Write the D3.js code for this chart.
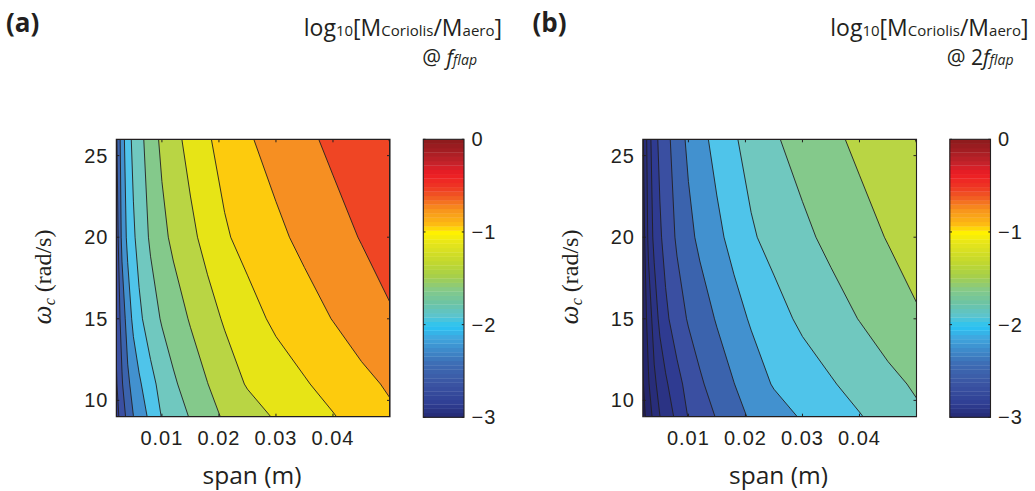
<!DOCTYPE html>
<html>
<head>
<meta charset="utf-8">
<script src="https://cdn.jsdelivr.net/npm/d3@7"></script>
<style>
  body { margin: 0; background: #fff; }
  svg { display: block; }
  .tick { font-family: "Liberation Sans", Arial, sans-serif; font-size: 20px; fill: #231f20; letter-spacing: 1px; }
  .lbl { font-family: "Open Sans", sans-serif; fill: #231f20; }
  .serif { font-family: "Liberation Serif", serif; fill: #231f20; }
</style>
</head>
<body>
<svg id="chart" width="1035" height="491"></svg>
<script>
// grid: span columns (m), omega rows (rad/s, bottom to top)
const spans = [0.002, 0.003, 0.004, 0.005, 0.006, 0.008, 0.010, 0.012, 0.015, 0.018, 0.021, 0.025, 0.030, 0.035, 0.040, 0.045, 0.050]
const omegas = [9, 11, 15, 20, 26]

// log10[M_Coriolis / M_aero] @ f_flap
const ratioA = [
  [-3.10, -2.875, -2.675, -2.503, -2.398, -2.188, -1.987, -1.885, -1.733, -1.590, -1.469, -1.358, -1.226, -1.120, -1.014, -0.902, -0.790],
  [-3.03, -2.773, -2.550, -2.409, -2.291, -2.078, -1.918, -1.787, -1.640, -1.504, -1.378, -1.230, -1.126, -1.021, -0.916, -0.810, -0.720],
  [-2.94, -2.650, -2.386, -2.190, -2.053, -1.872, -1.726, -1.626, -1.479, -1.346, -1.223, -1.092, -0.953, -0.848, -0.743, -0.636, -0.530],
  [-2.90, -2.435, -2.188, -2.035, -1.915, -1.713, -1.566, -1.448, -1.308, -1.168, -1.029, -0.920, -0.802, -0.692, -0.590, -0.487, -0.380],
  [-2.80, -2.360, -2.100, -1.940, -1.840, -1.620, -1.450, -1.330, -1.170, -1.025, -0.914, -0.776, -0.659, -0.552, -0.448, -0.346, -0.245]
]

// log10[M_Coriolis / M_aero] @ 2 f_flap
const ratioB = [
  [-4.10, -3.875, -3.675, -3.503, -3.398, -3.188, -2.987, -2.885, -2.733, -2.590, -2.469, -2.358, -2.226, -2.120, -2.014, -1.902, -1.790],
  [-4.03, -3.773, -3.550, -3.409, -3.291, -3.078, -2.918, -2.787, -2.640, -2.504, -2.378, -2.230, -2.126, -2.021, -1.916, -1.810, -1.720],
  [-3.94, -3.650, -3.386, -3.190, -3.053, -2.872, -2.726, -2.626, -2.479, -2.346, -2.223, -2.092, -1.953, -1.848, -1.743, -1.636, -1.530],
  [-3.90, -3.435, -3.188, -3.035, -2.915, -2.713, -2.566, -2.448, -2.308, -2.168, -2.029, -1.920, -1.802, -1.692, -1.590, -1.487, -1.380],
  [-3.80, -3.360, -3.100, -2.940, -2.840, -2.620, -2.450, -2.330, -2.170, -2.025, -1.914, -1.776, -1.659, -1.552, -1.448, -1.346, -1.245]
]

const levels = [-4, -3.75, -3.5, -3.25, -3, -2.75, -2.5, -2.25, -2, -1.75, -1.5, -1.25, -1, -0.75, -0.5, -0.25]
// fill for below the first level, then one per level
const bandColors = ['#1e1d5a', '#24266c', '#282d7a', '#2b3384', '#2f3b91', '#3a4fa1', '#3b63ad', '#4291cf',
  '#4fc4ea', '#70c8bf', '#84c98b', '#b9d544', '#e7e416', '#fdcb0d', '#f68f22', '#ef4524', '#cf2229']

const xTicks = [0.01, 0.02, 0.03, 0.04]
const yTicks = [10, 15, 20, 25]
const cbarTicks = [0, -1, -2, -3]

// colorbar map sampled off the bar
const cbarStops = [-3, -2.85, -2.63, -2.42, -2.27, -2.13, -2.02, -1.91, -1.77, -1.63, -1.48, -1.34, -1.12, -1.01, -0.91, -0.76, -0.62, -0.51, -0.37, -0.26, -0.115, 0]
const cbarColors = ['#262a74', '#2f3f94', '#3b55a3', '#3d6db5', '#3e8ccc', '#3fa9e0', '#27c4f4', '#5bc4d0', '#6cc4a4', '#84c98a', '#a5cf4c',
  '#bfd730', '#e6e51a', '#fff200', '#fdb913', '#f7941d', '#f15a22', '#ee3524', '#ed1c24', '#c6222a', '#a11d22', '#8c1a1c']

const svg = d3.select('#chart')
const ink = '#231f20'

const drawPanel = (ratio, dx, tag, id, freq) => {

  const g = svg.append('g').attr('transform', `translate(${dx},0)`)

  const x = d3.scaleLinear().domain([spans[0], spans[spans.length - 1]]).range([116.3, 390])
  const y = d3.scaleLinear().domain([omegas[0], omegas[omegas.length - 1]]).range([416.7, 139.3])

  const n = spans.length, m = omegas.length
  const colSpan = d3.scaleLinear().domain(d3.range(n)).range(spans).clamp(true)
  const rowOmega = d3.scaleLinear().domain(d3.range(m)).range(omegas).clamp(true)

  const toPlot = d3.geoTransform({
    point(u, v) { this.stream.point(x(colSpan(u - 0.5)), y(rowOmega(v - 0.5))) }
  })
  const path = d3.geoPath(toPlot)

  const bands = d3.contours().size([n, m]).thresholds(levels)(ratio.flat())

  g.append('clipPath').attr('id', id)
    .append('rect')
    .attr('x', x.range()[0]).attr('y', y.range()[1])
    .attr('width', x.range()[1] - x.range()[0]).attr('height', y.range()[0] - y.range()[1])

  const plot = g.append('g').attr('clip-path', `url(#${id})`)

  plot.append('rect')
    .attr('x', x.range()[0]).attr('y', y.range()[1])
    .attr('width', x.range()[1] - x.range()[0]).attr('height', y.range()[0] - y.range()[1])
    .attr('fill', bandColors[0])

  plot.selectAll('path.band')
    .data(bands)
    .enter()
    .append('path')
    .attr('class', 'band')
    .attr('d', path)
    .attr('fill', (d, i) => bandColors[i + 1])

  plot.selectAll('path.line')
    .data(bands)
    .enter()
    .append('path')
    .attr('class', 'line')
    .attr('d', path)
    .attr('fill', 'none')
    .attr('stroke', ink)
    .attr('stroke-width', 0.9)

  // box and inward ticks
  g.append('rect')
    .attr('x', x.range()[0]).attr('y', y.range()[1])
    .attr('width', x.range()[1] - x.range()[0]).attr('height', y.range()[0] - y.range()[1])
    .attr('fill', 'none').attr('stroke', ink).attr('stroke-width', 1.1)

  const tl = 3
  xTicks.forEach(t => {
    g.append('line').attr('x1', x(t)).attr('x2', x(t)).attr('y1', y.range()[0]).attr('y2', y.range()[0] - tl).attr('stroke', ink)
    g.append('line').attr('x1', x(t)).attr('x2', x(t)).attr('y1', y.range()[1]).attr('y2', y.range()[1] + tl).attr('stroke', ink)
    g.append('text').attr('class', 'tick')
      .attr('x', x(t)).attr('y', 445).attr('text-anchor', 'middle')
      .text(t.toFixed(2))
  })
  yTicks.forEach(t => {
    g.append('line').attr('x1', x.range()[0]).attr('x2', x.range()[0] + tl).attr('y1', y(t)).attr('y2', y(t)).attr('stroke', ink)
    g.append('line').attr('x1', x.range()[1]).attr('x2', x.range()[1] - tl).attr('y1', y(t)).attr('y2', y(t)).attr('stroke', ink)
    g.append('text').attr('class', 'tick')
      .attr('x', 108.5).attr('y', y(t) + 7).attr('text-anchor', 'end')
      .text(t)
  })

  g.append('text').attr('class', 'lbl')
    .attr('x', 252).attr('y', 484).attr('text-anchor', 'middle')
    .attr('font-size', 24.5)
    .text('span (m)')

  const yl = g.append('text').attr('class', 'serif')
    .attr('transform', 'translate(51,277) rotate(-90)')
    .attr('text-anchor', 'middle')
    .attr('font-size', 24)
  yl.append('tspan').attr('font-style', 'italic').attr('font-size', 27).text('ω')
  yl.append('tspan').attr('font-style', 'italic').attr('font-size', 16).attr('dy', 4).text('c')
  yl.append('tspan').attr('dy', -4).text(' (rad/s)')

  // colorbar
  const c = d3.scaleLinear().domain([-3, 0]).range([417.3, 139.3])
  const cmap = d3.scaleLinear().domain(cbarStops).range(cbarColors)
  const steps = d3.range(64)
  g.selectAll('rect.cb')
    .data(steps)
    .enter()
    .append('rect')
    .attr('class', 'cb')
    .attr('x', 423.3).attr('width', 40.7)
    .attr('y', k => c(-3 + (k + 1) * 3 / 64))
    .attr('height', k => c(-3 + k * 3 / 64) - c(-3 + (k + 1) * 3 / 64) + 0.3)
    .attr('fill', k => cmap(-3 + (k + 0.5) * 3 / 64))

  g.append('rect')
    .attr('x', 423.3).attr('y', c(0)).attr('width', 40.7).attr('height', c(-3) - c(0))
    .attr('fill', 'none').attr('stroke', ink).attr('stroke-width', 1.1)

  cbarTicks.forEach(t => {
    g.append('line').attr('x1', 423.3).attr('x2', 425.5).attr('y1', c(t)).attr('y2', c(t)).attr('stroke', ink)
    g.append('line').attr('x1', 464).attr('x2', 461.8).attr('y1', c(t)).attr('y2', c(t)).attr('stroke', ink)
    g.append('text').attr('class', 'tick')
      .attr('x', 471.5).attr('y', c(t) + 7)
      .text(t === 0 ? '0' : '\u2212' + Math.abs(t))
  })

  // titles
  g.append('text').attr('class', 'lbl')
    .attr('x', 6).attr('y', 32)
    .attr('font-size', 26).attr('font-weight', 'bold')
    .text(tag)

  const title = g.append('text').attr('class', 'lbl')
    .attr('x', 502).attr('y', 36).attr('text-anchor', 'end')
    .attr('font-size', 23)
  title.append('tspan').text('log')
  title.append('tspan').attr('font-size', 15).text('10')
  title.append('tspan').text('[M')
  title.append('tspan').attr('font-size', 15).text('Coriolis')
  title.append('tspan').text('/M')
  title.append('tspan').attr('font-size', 15).text('aero')
  title.append('tspan').text(']')

  const sub = g.append('text').attr('class', 'lbl')
    .attr('x', freq ? 487 : 477).attr('y', 65).attr('text-anchor', 'end')
    .attr('font-size', 21)
  sub.append('tspan').text(freq ? '@ 2' : '@ ')
  sub.append('tspan').attr('font-style', 'italic').text('f')
  sub.append('tspan').attr('font-style', 'italic').attr('font-size', 14).text('flap')
}

drawPanel(ratioA, 0, '(a)', 'clipA', false)
drawPanel(ratioB, 526.5, '(b)', 'clipB', true)
</script>
</body>
</html>
